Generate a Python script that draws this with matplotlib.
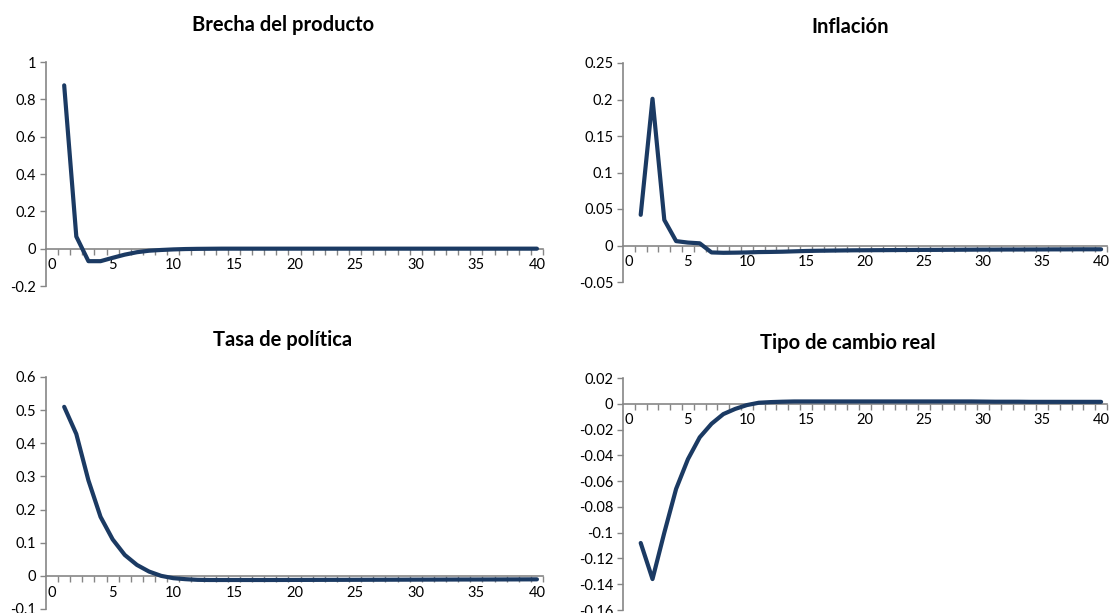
import numpy as np
import matplotlib
matplotlib.use("Agg")
import matplotlib.pyplot as plt
from matplotlib.ticker import FixedLocator, FuncFormatter

plt.rcParams['font.family'] = ['Lato', 'DejaVu Sans']

# Impulse responses, periods 1..40
periods = np.arange(1, 41)

brecha = [0.875, 0.065, -0.067, -0.067, -0.049, -0.032, -0.019, -0.011, -0.007, -0.004,
          -0.002, -0.001, -0.0005, 0, 0, 0, 0, 0, 0, 0,
          0, 0, 0, 0, 0, 0, 0, 0, 0, 0,
          0, 0, 0, 0, 0, 0, 0, 0, 0, 0]

inflacion = [0.042, 0.201, 0.035, 0.006, 0.004, 0.003, -0.0095, -0.010, -0.0098, -0.0095,
             -0.009, -0.0088, -0.0085, -0.008, -0.0075, -0.0072, -0.007, -0.0068, -0.0066, -0.0065,
             -0.0064, -0.0063, -0.0062, -0.0061, -0.006, -0.006, -0.0059, -0.0058, -0.0057, -0.0056,
             -0.0056, -0.0055, -0.0055, -0.0054, -0.0054, -0.0053, -0.0053, -0.0052, -0.0052, -0.0052]

tasa = [0.51, 0.428, 0.288, 0.178, 0.11, 0.063, 0.033, 0.013, 0.0, -0.007,
        -0.010, -0.012, -0.0125, -0.0125, -0.0125, -0.0125, -0.0125, -0.0125, -0.0124, -0.0123,
        -0.0122, -0.0121, -0.012, -0.012, -0.0119, -0.0118, -0.0117, -0.0116, -0.0115, -0.0114,
        -0.0113, -0.0112, -0.0111, -0.011, -0.011, -0.0109, -0.0108, -0.0107, -0.0106, -0.0105]

tipo_cambio = [-0.108, -0.136, -0.100, -0.066, -0.043, -0.026, -0.0155, -0.008, -0.004, -0.001,
               0.0008, 0.0013, 0.0016, 0.0018, 0.0018, 0.0018, 0.0018, 0.0018, 0.0018, 0.0018,
               0.0018, 0.0018, 0.0018, 0.0018, 0.0018, 0.0018, 0.0018, 0.0018, 0.0018, 0.0017,
               0.0016, 0.0016, 0.0016, 0.0015, 0.0015, 0.0015, 0.0015, 0.0015, 0.0015, 0.0015]

titles = ["Brecha del producto", "Inflación", "Tasa de política", "Tipo de cambio real"]
series = [brecha, inflacion, tasa, tipo_cambio]
y_ticks = [np.arange(-0.2, 1.01, 0.2),
           np.arange(-0.05, 0.251, 0.05),
           np.arange(-0.1, 0.61, 0.1),
           np.arange(-0.16, 0.021, 0.02)]

LINE_COLOR = '#1b3a63'
AXIS_COLOR = '#868686'

W, H = 1110, 613
# axes boxes in pixels: left, right, top, bottom
boxes = [(46, 543, 62, 286),
         (623, 1107, 63, 282),
         (46, 543, 377, 609),
         (623, 1107, 378, 610)]
title_pos = [(283, 25), (850, 27), (283, 340), (848, 343)]


def fmt(v, pos):
    v = round(v, 4) + 0.0
    if v == 0:
        return "0"
    return f"{v:g}"


fig = plt.figure(figsize=(W / 100, H / 100), dpi=100)

for (l, r, t, b), ttl, (tx, ty), vals, yt in zip(boxes, titles, title_pos, series, y_ticks):
    ax = fig.add_axes([l / W, 1 - b / H, (r - l) / W, (b - t) / H])
    ax.plot(periods, vals, color=LINE_COLOR, linewidth=3.0,
            solid_joinstyle='round', solid_capstyle='round', zorder=3)

    ax.set_xlim(-0.5, 40.5)
    ax.set_ylim(yt[0], yt[-1])

    for s in ['top', 'right']:
        ax.spines[s].set_visible(False)
    ax.spines['left'].set_color(AXIS_COLOR)
    ax.spines['bottom'].set_color(AXIS_COLOR)
    ax.spines['left'].set_linewidth(1.2)
    ax.spines['bottom'].set_linewidth(1.2)
    ax.spines['bottom'].set_position(('data', 0))
    ax.spines['bottom'].set_zorder(2)

    ax.set_yticks(yt)
    ax.yaxis.set_major_formatter(FuncFormatter(fmt))
    ax.tick_params(axis='y', direction='out', length=4, width=1, color=AXIS_COLOR,
                   labelsize=10.5, pad=3)

    ax.xaxis.set_major_locator(FixedLocator(np.arange(0, 41, 5)))
    ax.xaxis.set_minor_locator(FixedLocator(np.arange(0.5, 41, 1)))
    ax.tick_params(axis='x', which='major', length=0, labelsize=10.5, pad=7)
    ax.tick_params(axis='x', which='minor', direction='out', length=4, width=1,
                   color=AXIS_COLOR)

    fig.text(tx / W, 1 - ty / H, ttl, ha='center', va='center',
             fontsize=14.5, fontweight='bold')

fig.savefig('out.png', dpi=100)
